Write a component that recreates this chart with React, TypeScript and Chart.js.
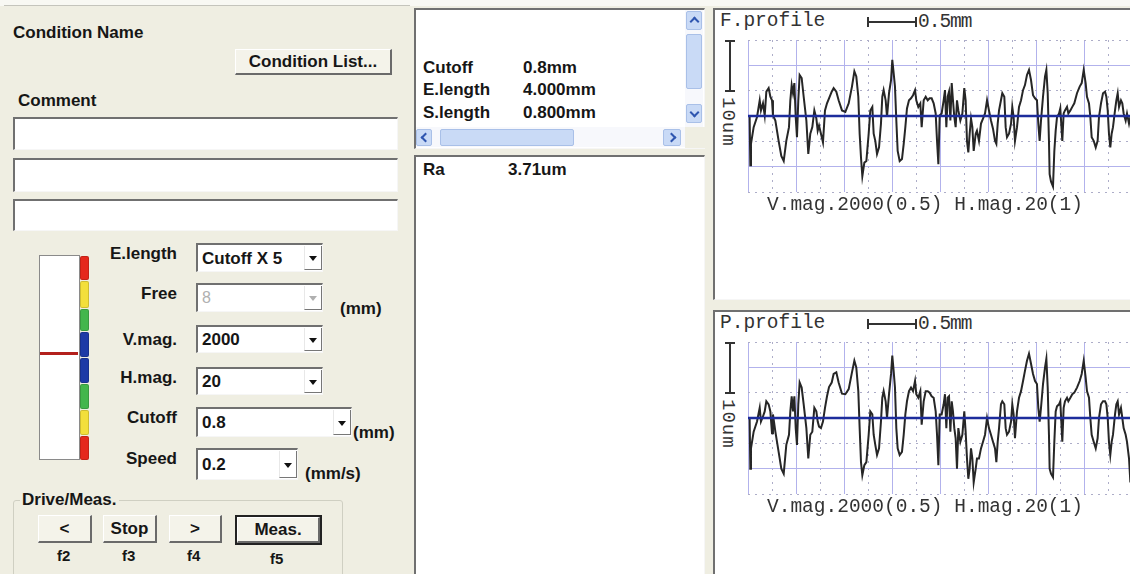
import React, { useEffect, useRef } from "react";
import { Chart, registerables } from "chart.js";

Chart.register(...registerables);

// ---------- DATA ----------
// Evaluation positions along the profile (mm)
const positionsMm = [
  0.017, 0.024, 0.031, 0.059, 0.094, 0.122, 0.135, 0.156, 0.174, 0.191,
  0.215, 0.233, 0.250, 0.260, 0.285, 0.319, 0.347, 0.372, 0.399, 0.427,
  0.441, 0.455, 0.469, 0.483, 0.497, 0.510, 0.524, 0.538, 0.559, 0.580,
  0.608, 0.628, 0.649, 0.670, 0.691, 0.712, 0.726, 0.740, 0.760, 0.781,
  0.802, 0.823, 0.844, 0.872, 0.892, 0.920, 0.944, 0.979, 1.014, 1.049,
  1.083, 1.108, 1.128, 1.149, 1.163, 1.177, 1.191, 1.212, 1.233, 1.257,
  1.274, 1.295, 1.309, 1.326, 1.344, 1.365, 1.385, 1.399, 1.413, 1.434,
  1.448, 1.469, 1.490, 1.503, 1.517, 1.531, 1.545, 1.559, 1.580, 1.604,
  1.622, 1.639, 1.656, 1.677, 1.698, 1.719, 1.740, 1.753, 1.774, 1.795,
  1.809, 1.830, 1.851, 1.872, 1.892, 1.913, 1.934, 1.955, 1.969, 1.983,
  1.997, 2.017, 2.038, 2.052, 2.066, 2.080, 2.094, 2.108, 2.122, 2.135,
  2.149, 2.163, 2.177, 2.191, 2.212, 2.233, 2.253, 2.267, 2.281, 2.295,
  2.309, 2.323, 2.337, 2.351, 2.372, 2.385, 2.406, 2.427, 2.448, 2.469,
  2.490, 2.510, 2.531, 2.552, 2.573, 2.587, 2.601, 2.615, 2.635, 2.649,
  2.670, 2.684, 2.698, 2.719, 2.740, 2.753, 2.767, 2.781, 2.802, 2.823,
  2.844, 2.865, 2.885, 2.906, 2.927, 2.948, 2.969, 2.990, 3.010, 3.024,
  3.038, 3.052, 3.073, 3.094, 3.108, 3.122, 3.135, 3.142, 3.156, 3.177,
  3.191, 3.205, 3.219, 3.240, 3.253, 3.274, 3.288, 3.302, 3.323, 3.337,
  3.358, 3.378, 3.399, 3.427, 3.455, 3.476, 3.497, 3.517, 3.531, 3.552,
  3.566, 3.580, 3.601, 3.622, 3.642, 3.656, 3.677, 3.698, 3.719, 3.733,
  3.747, 3.760, 3.774, 3.788, 3.802, 3.823, 3.837, 3.851, 3.865, 3.885,
  3.899, 3.913, 3.934, 3.948, 3.969, 3.983,
];

// F.profile heights (um)
const fProfileUm = [
  0.0, -9.7, -5.5, -2.2, -0.2, 3.1, 1.1, 2.5, 0.1, 4.8,
  5.5, 3.8, 3.1, 0.1, -0.9, -4.9, -7.9, -8.9, -4.9, -2.2,
  3.1, 6.1, 4.5, 6.5, -0.2, -4.2, 3.1, 8.1, 7.5, 3.8,
  -0.9, -7.5, -3.5, -2.2, 1.1, -0.5, -2.9, -1.9, -3.5, -5.2,
  1.1, 2.5, 3.5, 4.8, 5.5, 4.8, 3.1, 1.1, 0.8, 2.5,
  5.8, 8.8, 7.8, 3.8, -3.5, -8.2, -11.9, -9.2, -8.9, -3.5,
  1.1, 1.8, -3.5, -4.9, -7.5, -6.2, -1.5, 3.8, 5.1, 3.1,
  -0.2, 4.5, 7.1, 11.1, 8.5, 5.8, -0.9, -6.9, -8.9, -8.5,
  -5.5, -2.2, 1.5, 3.1, 3.5, 4.1, 5.1, 3.1, 1.8, 2.5,
  -2.2, 3.1, 3.8, 3.1, 3.5, 3.5, 2.5, 0.5, -4.9, -9.5,
  0.1, 0.5, 3.1, 5.1, -2.2, 3.8, 4.8, -0.9, 6.5, 3.1,
  -0.2, -2.2, 3.1, 1.1, -0.9, 0.5, 5.5, 3.1, -4.9, -7.2,
  -3.5, -0.5, -2.2, -6.9, -3.5, -2.9, -4.9, -1.5, -0.5, 0.5,
  3.1, 1.1, -0.9, -2.5, -4.9, -5.5, -1.5, 1.1, 3.1, 4.5,
  3.8, -2.2, -4.2, -3.5, -1.5, 1.8, -0.2, -4.9, -2.2, 1.8,
  3.1, 5.1, 6.1, 8.1, 9.1, 7.1, 4.1, 3.5, 3.1, -1.5,
  -4.9, -0.9, 3.8, 7.8, 9.1, 4.5, -4.9, -11.5, -12.9, -13.9,
  -6.9, -2.9, -0.2, 0.5, 1.5, -4.9, 0.5, 1.1, 1.8, 0.5,
  1.1, 1.8, 2.5, 4.5, 5.8, 6.5, 9.1, 6.5, 3.8, 2.5,
  -0.2, -4.2, -4.9, -6.2, -4.9, -0.2, 2.5, 4.5, 4.8, 3.8,
  1.1, -3.5, -6.2, -3.5, -2.2, 1.1, 3.1, 4.5, 1.8, 3.1,
  2.5, 0.5, -0.9, 0.5, -1.5, -0.2,
];

// P.profile heights (um)
const pProfileUm = [
  0.0, -10.0, -6.0, -2.7, -0.7, 2.0, -0.7, 0.3, 1.3, 3.3,
  2.7, 1.3, -3.0, 0.7, -2.7, -6.7, -10.0, -11.0, -5.3, -3.3,
  1.3, 4.3, 1.3, 4.3, -2.0, -5.3, 2.7, 7.0, 6.0, 2.7,
  -2.0, -8.0, -3.3, -2.7, 2.0, 1.3, -0.7, -1.7, -2.0, -0.7,
  2.0, 4.3, 6.1, 7.0, 8.7, 9.0, 7.0, 4.8, 4.7, 5.7,
  9.0, 11.3, 10.0, 5.3, -2.0, -8.7, -11.3, -9.3, -8.7, -3.3,
  1.3, 0.7, -3.3, -5.3, -7.3, -6.0, -0.7, 4.0, 5.3, 3.3,
  0.0, 4.7, 8.7, 12.3, 9.3, 6.0, -2.0, -6.0, -7.3, -6.7,
  -3.3, 0.7, 3.3, 5.3, 6.0, 5.3, 7.3, 4.7, 4.0, 5.3,
  -1.3, 3.3, 5.3, 5.3, 5.0, 4.3, 4.0, 1.3, -3.3, -9.3,
  0.7, 0.7, 2.7, 4.7, -2.0, 4.0, 4.3, -2.7, 3.3, 1.3,
  -2.0, -4.0, -10.0, -2.0, -4.7, -3.3, 1.3, -2.7, -8.0, -12.0,
  -10.0, -6.0, -8.0, -12.7, -10.0, -8.0, -8.0, -6.0, -4.7, -3.3,
  0.0, -2.0, -3.3, -4.7, -6.0, -8.7, -4.7, -2.0, 2.7, 3.3,
  2.7, -2.0, -3.3, -2.7, -0.7, 2.7, 0.7, -4.0, 1.3, 4.0,
  5.3, 7.3, 9.3, 11.3, 12.7, 10.7, 8.7, 7.3, 6.7, 2.0,
  -0.7, 2.0, 6.7, 10.0, 11.7, 6.0, -3.3, -10.0, -11.0, -11.7,
  -4.7, 1.3, 2.3, 2.7, 3.3, -4.7, 2.0, 3.3, 4.0, 3.3,
  4.0, 4.7, 5.0, 6.0, 7.3, 8.7, 11.3, 8.0, 5.3, 4.0,
  0.0, -3.3, -4.7, -6.0, -4.0, 0.0, 2.7, 3.3, 3.3, 2.7,
  0.0, -4.7, -7.3, -4.7, -3.3, 0.7, 2.7, 3.3, 0.7, 2.0,
  0.0, -2.0, -3.3, -4.7, -8.0, -12.7,
];

// Mean line
const meanLineXMm = [0, 4];
const meanLineYUm = [0, 0];

// Grid ticks
const xGridMm = [0, 0.25, 0.5, 0.75, 1, 1.25, 1.5, 1.75, 2, 2.25, 2.5, 2.75, 3, 3.25, 3.5, 3.75, 4];
const yGridUm = [-15, -10, -5, 0, 5, 10, 15];
const xMajorMm = [0, 0.5, 1, 1.5, 2, 2.5, 3, 3.5, 4];
const yMajorUm = [-10, 0, 10];

// Text
const profileTitles = ["F.profile", "P.profile"];
const magText = "V.mag.2000(0.5) H.mag.20(1)";
const scaleXText = "0.5mm";
const scaleYText = "10um";
const condRows = [
  ["Cutoff", "0.8mm"],
  ["E.length", "4.000mm"],
  ["S.length", "0.800mm"],
];
const resultRows = [["Ra", "3.71um"]];
const paramLabels = ["E.length", "Free", "V.mag.", "H.mag.", "Cutoff", "Speed"];
const paramValues = ["Cutoff X 5", "8", "2000", "20", "0.8", "0.2"];
const driveButtons = ["<", "Stop", ">", "Meas."];
const driveKeys = ["f2", "f3", "f4", "f5"];

// ---------- STYLE ----------
const UI_FONT = '"Liberation Sans", Arial, sans-serif';
const MONO = '"Liberation Mono", "Courier New", monospace';
const BEIGE = "#efeee2";

const isMajor = (v: number, majors: number[]) => majors.some((m) => Math.abs(m - v) < 1e-6);

function ProfileChart({ values, left, top }: { values: number[]; left: number; top: number }) {
  const ref = useRef<HTMLCanvasElement>(null);
  useEffect(() => {
    if (!ref.current) return;
    const chart = new Chart(ref.current, {
      type: "line",
      data: {
        datasets: [
          {
            data: meanLineXMm.map((x, i) => ({ x, y: meanLineYUm[i] })),
            borderColor: "#1d2c9c",
            borderWidth: 2.5,
            pointRadius: 0,
          },
          {
            data: positionsMm.map((x, i) => ({ x, y: values[i] })),
            borderColor: "#262626",
            borderWidth: 2,
            pointRadius: 0,
            tension: 0,
          },
        ],
      },
      options: {
        responsive: false,
        animation: false,
        devicePixelRatio: 1,
        events: [],
        layout: { padding: 8 },
        plugins: { legend: { display: false }, tooltip: { enabled: false }, title: { display: false } },
        scales: {
          x: {
            type: "linear",
            min: 0,
            max: 4,
            afterBuildTicks: (scale: any) => {
              scale.ticks = xGridMm.map((v) => ({ value: v }));
            },
            ticks: { display: false },
            grid: {
              drawTicks: false,
              lineWidth: 1,
              color: (ctx: any) => (isMajor(ctx.tick.value, xMajorMm) ? "#b2b2ec" : "#adadc8"),
            },
            border: {
              display: false,
              dash: (ctx: any) => (isMajor(ctx.tick.value, xMajorMm) ? [] : [2, 5]),
            },
          },
          y: {
            type: "linear",
            min: -15,
            max: 15,
            afterBuildTicks: (scale: any) => {
              scale.ticks = yGridUm.map((v) => ({ value: v }));
            },
            ticks: { display: false },
            grid: {
              drawTicks: false,
              lineWidth: 1,
              color: (ctx: any) => (isMajor(ctx.tick.value, yMajorUm) ? "#b2b2ec" : "#adadc8"),
            },
            border: {
              display: false,
              dash: (ctx: any) => (isMajor(ctx.tick.value, yMajorUm) ? [] : [2, 5]),
            },
          },
        },
      } as any,
    });
    return () => chart.destroy();
  }, [values]);
  return (
    <canvas
      ref={ref}
      width={400}
      height={168}
      style={{ position: "absolute", left, top, width: 400, height: 168 }}
    />
  );
}

function Box({ l, t, w, h, style, children }: any) {
  return (
    <div style={{ position: "absolute", left: l, top: t, width: w, height: h, boxSizing: "border-box", ...style }}>
      {children}
    </div>
  );
}

function Txt({ x, cy, children, size = 17, bold = true, color = "#161616", right, family = UI_FONT, spacing }: any) {
  const h = Math.round(size * 1.25);
  const style: React.CSSProperties = {
    position: "absolute",
    top: cy - h / 2,
    height: h,
    lineHeight: h + "px",
    fontSize: size,
    fontWeight: bold ? 700 : 400,
    fontFamily: family,
    color,
    whiteSpace: "nowrap",
    letterSpacing: spacing,
  };
  if (right !== undefined) {
    style.left = right - 300;
    style.width = 300;
    style.textAlign = "right";
  } else style.left = x;
  return <div style={style}>{children}</div>;
}

const sunken = {
  background: "#fff",
  borderTop: "2px solid #707070",
  borderLeft: "2px solid #707070",
  borderRight: "1px solid #f6f6f6",
  borderBottom: "1px solid #f6f6f6",
};

const raised = {
  background: "#f4f3ea",
  borderTop: "1px solid #ffffff",
  borderLeft: "1px solid #ffffff",
  borderRight: "2px solid #6a6a6a",
  borderBottom: "2px solid #6a6a6a",
  display: "flex",
  alignItems: "center",
  justifyContent: "center",
  fontFamily: UI_FONT,
  fontWeight: 700,
  fontSize: 17,
  color: "#161616",
};

function Combo({ l, t, w, h, text, disabled }: any) {
  return (
    <Box l={l} t={t} w={w} h={h} style={sunken}>
      <Txt x={4} cy={(h - 3) / 2} bold={!disabled} color={disabled ? "#b0b0b0" : "#161616"} size={disabled ? 16 : 17}>
        {text}
      </Txt>
      <div
        style={{
          position: "absolute",
          right: 0,
          top: 1,
          width: 18,
          height: h - 5,
          borderRight: "1px solid #777",
          borderBottom: "1px solid #777",
          borderLeft: "1px solid #e8e8e8",
          background: "#fff",
          boxSizing: "border-box",
        }}
      >
        <div
          style={{
            position: "absolute",
            left: 4,
            top: (h - 5) / 2 - 2,
            width: 0,
            height: 0,
            borderLeft: "4px solid transparent",
            borderRight: "4px solid transparent",
            borderTop: `5px solid ${disabled ? "#b0b0b0" : "#111"}`,
          }}
        />
      </div>
    </Box>
  );
}

function Chevron({ cx, cy, dir }: any) {
  const rot = { up: -135, down: 45, left: 135, right: -45 }[dir as string];
  return (
    <div
      style={{
        position: "absolute",
        left: cx - 3,
        top: cy - 3,
        width: 5,
        height: 5,
        borderRight: "2px solid #2f56b0",
        borderBottom: "2px solid #2f56b0",
        transform: `rotate(${rot}deg)`,
      }}
    />
  );
}

const sbBtn = {
  background: "#c9daf6",
  border: "1px solid #a9c0e8",
  borderRadius: 2,
};

function ProfilePanel({ top, title, values }: any) {
  const o = top - 8;
  return (
    <>
      <Box l={713} t={top} w={430} h={o === 0 ? 292 : 280} style={sunken} />
      <Txt x={720} cy={21 + o} family={MONO} bold={false} size={19.5} color="#333">
        {title}
      </Txt>
      {/* horizontal 0.5mm scale bar */}
      <Box l={867} t={21 + o} w={50} h={2} style={{ background: "#333" }} />
      <Box l={867} t={17 + o} w={2} h={10} style={{ background: "#333" }} />
      <Box l={915} t={17 + o} w={2} h={10} style={{ background: "#333" }} />
      <Txt x={918} cy={22 + o} family={MONO} bold={false} size={19.5} color="#333" spacing={-1}>
        {scaleXText}
      </Txt>
      {/* vertical 10um scale bar */}
      <Box l={729} t={40 + o} w={2} h={52} style={{ background: "#333" }} />
      <Box l={725} t={40 + o} w={10} h={2} style={{ background: "#333" }} />
      <Box l={725} t={90 + o} w={10} h={2} style={{ background: "#333" }} />
      <div
        style={{
          position: "absolute",
          left: 718,
          top: 97 + o,
          width: 20,
          writingMode: "vertical-rl",
          fontFamily: MONO,
          fontSize: 19,
          lineHeight: "20px",
          color: "#333",
          letterSpacing: 1,
        }}
      >
        {scaleYText}
      </div>
      <ProfileChart values={values} left={740} top={32 + o} />
      <Txt x={767} cy={205 + o} family={MONO} bold={false} size={19.5} color="#333">
        {magText}
      </Txt>
    </>
  );
}

export default function App() {
  useEffect(() => {
    document.body.style.margin = "0";
  }, []);
  const labelCy = [253, 293, 339, 377, 417, 458];
  const comboGeo = [
    [243, 127, 29],
    [283, 127, 29],
    [325, 127, 28],
    [367, 127, 28],
    [407, 156, 30],
    [448, 102, 32],
  ];
  const gauge = [
    ["#e5281c", 255, 280],
    ["#f3df3b", 280, 308],
    ["#43b64c", 308, 331],
    ["#1d3aa6", 331, 357],
    ["#1d3aa6", 357, 383],
    ["#43b64c", 383, 409],
    ["#f3df3b", 409, 435],
    ["#e5281c", 435, 460],
  ];
  const btnGeo = [
    [38, 54],
    [103, 54],
    [169, 53],
    [235, 87],
  ];
  const keyX = [65, 130, 195, 278];

  return (
    <div
      style={{
        position: "fixed",
        left: 0,
        top: 0,
        width: 1130,
        height: 574,
        overflow: "hidden",
        background: BEIGE,
        fontFamily: UI_FONT,
      }}
    >
      {/* top strip */}
      <Box l={0} t={0} w={1130} h={6} style={{ background: "#f8f8f3" }} />
      <Box l={4} t={5} w={406} h={1} style={{ background: "#c4c4bc" }} />

      {/* ---------- LEFT PANEL ---------- */}
      <Txt x={13} cy={32}>Condition Name</Txt>
      <Box l={235} t={49} w={157} h={26} style={raised}>Condition List...</Box>
      <Txt x={18} cy={100}>Comment</Txt>
      <Box l={13} t={117} w={385} h={33} style={sunken} />
      <Box l={13} t={158} w={385} h={34} style={sunken} />
      <Box l={13} t={199} w={385} h={32} style={sunken} />

      {/* gauge */}
      <Box l={39} t={255} w={41} h={205} style={{ background: "#fff", border: "1px solid #8a8a8a" }} />
      {gauge.map(([c, t0, t1], i) => (
        <Box
          key={i}
          l={80}
          t={(t0 as number) + 1}
          w={9}
          h={(t1 as number) - (t0 as number) - 1}
          style={{ background: c as string, borderRadius: 2, border: "1px solid rgba(0,0,0,0.15)" }}
        />
      ))}
      <Box l={40} t={352} w={38} h={3} style={{ background: "#b3201c" }} />

      {paramLabels.map((lab, i) => (
        <Txt key={lab} right={177} cy={labelCy[i]}>
          {lab}
        </Txt>
      ))}
      {paramValues.map((v, i) => (
        <Combo key={i} l={196} t={comboGeo[i][0]} w={comboGeo[i][1]} h={comboGeo[i][2]} text={v} disabled={i === 1} />
      ))}
      <Txt x={340} cy={308}>(mm)</Txt>
      <Txt x={353} cy={432}>(mm)</Txt>
      <Txt x={305} cy={473}>(mm/s)</Txt>

      {/* drive / meas group */}
      <Box l={13} t={500} w={330} h={90} style={{ border: "1px solid #cfcfc2", borderRadius: 3 }} />
      <div
        style={{
          position: "absolute",
          left: 20,
          top: 490,
          height: 20,
          lineHeight: "20px",
          padding: "0 2px",
          background: BEIGE,
          fontWeight: 700,
          fontSize: 17,
          color: "#161616",
          whiteSpace: "nowrap",
        }}
      >
        Drive/Meas.
      </div>
      {driveButtons.map((b, i) =>
        i === 3 ? (
          <Box key={b} l={btnGeo[i][0]} t={515} w={btnGeo[i][1]} h={30} style={{ border: "2px solid #222", background: "#f4f3ea" }}>
            <Box l={0} t={0} w={btnGeo[i][1] - 4} h={26} style={raised}>
              {b}
            </Box>
          </Box>
        ) : (
          <Box key={b} l={btnGeo[i][0]} t={515} w={btnGeo[i][1]} h={28} style={raised}>
            {b}
          </Box>
        )
      )}
      {driveKeys.map((k, i) => (
        <Txt key={k} x={keyX[i] - 8} cy={i === 3 ? 558 : 555} size={15}>
          {k}
        </Txt>
      ))}

      {/* ---------- MIDDLE PANEL ---------- */}
      <Box l={414} t={8} w={291} h={141} style={sunken} />
      {condRows.map(([a, b], i) => (
        <React.Fragment key={a}>
          <Txt x={423} cy={67 + i * 22.5}>{a}</Txt>
          <Txt x={523} cy={67 + i * 22.5}>{b}</Txt>
        </React.Fragment>
      ))}
      {/* vertical scrollbar */}
      <Box l={685} t={10} w={18} h={117} style={{ background: "#f7f8fc" }} />
      <Box l={686} t={11} w={16} h={19} style={sbBtn} />
      <Chevron cx={694} cy={21} dir="up" />
      <Box l={686} t={34} w={16} h={55} style={sbBtn} />
      <Box l={686} t={104} w={16} h={19} style={sbBtn} />
      <Chevron cx={694} cy={112} dir="down" />
      {/* horizontal scrollbar */}
      <Box l={416} t={127} w={269} h={20} style={{ background: "#f7f8fc" }} />
      <Box l={416} t={129} w={16} h={17} style={sbBtn} />
      <Chevron cx={425} cy={137} dir="left" />
      <Box l={440} t={129} w={134} h={17} style={sbBtn} />
      <Box l={663} t={129} w={18} h={17} style={sbBtn} />
      <Chevron cx={671} cy={137} dir="right" />
      <Box l={685} t={127} w={20} h={21} style={{ background: BEIGE }} />

      <Box l={414} t={155} w={291} h={430} style={sunken} />
      {resultRows.map(([a, b]) => (
        <React.Fragment key={a}>
          <Txt x={423} cy={169}>{a}</Txt>
          <Txt x={508} cy={169}>{b}</Txt>
        </React.Fragment>
      ))}

      {/* ---------- RIGHT PANEL ---------- */}
      <ProfilePanel top={8} title={profileTitles[0]} values={fProfileUm} />
      <ProfilePanel top={310} title={profileTitles[1]} values={pProfileUm} />
    </div>
  );
}
